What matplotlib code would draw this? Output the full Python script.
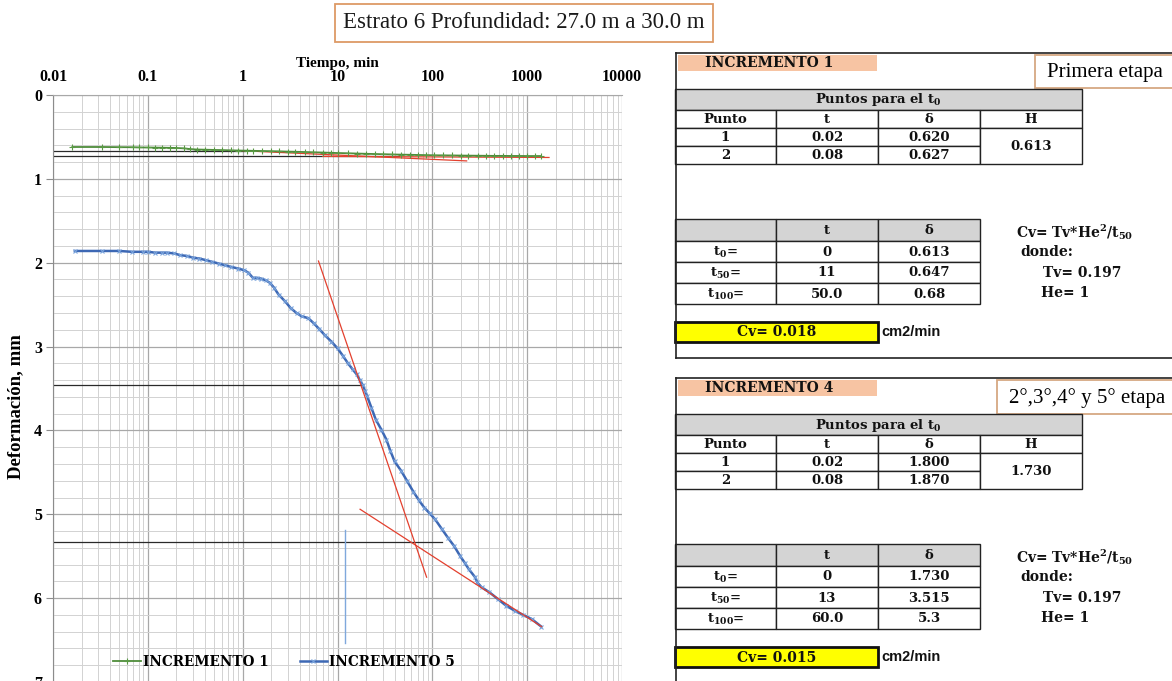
import matplotlib
matplotlib.use("Agg")
import matplotlib.pyplot as plt
from matplotlib.patches import Rectangle
from matplotlib.ticker import FixedLocator, MultipleLocator, FuncFormatter, LogLocator, NullFormatter

plt.rcParams['font.family'] = ['Liberation Serif', 'DejaVu Serif']
plt.rcParams['mathtext.fontset'] = 'dejavuserif'

# ---------------- consolidation curves (time in min, deformation in mm) ----------------
inc1_t = [0.016, 0.033, 0.05, 0.07, 0.08, 0.1, 0.12, 0.14, 0.17, 0.2, 0.24, 0.28, 0.33,
          0.4, 0.5, 0.6, 0.75, 0.9, 1.1, 1.3, 1.6, 2.0, 2.4, 3.0, 3.6, 4.5, 5.5, 7, 8.5,
          10, 13, 16, 20, 25, 30, 38, 47, 58, 70, 85, 105, 130, 160, 200, 240, 300, 370,
          450, 550, 680, 830, 1000, 1200, 1400]
inc1_d = [0.620, 0.620, 0.622, 0.623, 0.625, 0.626, 0.627, 0.628, 0.630, 0.632, 0.636,
          0.645, 0.650, 0.652, 0.655, 0.657, 0.660, 0.662, 0.664, 0.666, 0.668, 0.670,
          0.672, 0.675, 0.677, 0.680, 0.683, 0.686, 0.689, 0.692, 0.695, 0.698, 0.701,
          0.704, 0.706, 0.709, 0.711, 0.713, 0.715, 0.717, 0.719, 0.720, 0.721, 0.722,
          0.723, 0.724, 0.725, 0.726, 0.726, 0.727, 0.727, 0.728, 0.728, 0.728]

inc5_t = [0.017, 0.033, 0.05, 0.068, 0.088, 0.1, 0.12, 0.14, 0.16, 0.19, 0.22, 0.26, 0.30,
          0.35, 0.41, 0.48, 0.56, 0.65, 0.76, 0.9, 1.04, 1.15, 1.28, 1.42, 1.57, 1.75, 1.94,
          2.15, 2.39, 2.8, 3.2, 3.7, 4.2, 4.9, 5.6, 6.4, 7.3, 8.6, 10, 11.4, 12.9, 14.4,
          15.9, 17.2, 18.5, 19.5, 20.5, 22.8, 25.3, 29, 32.8, 36, 40, 46.8, 54, 63, 72,
          82, 94, 107, 125, 146, 170, 197, 220, 241, 282, 297, 330, 400, 490, 600, 740,
          910, 1120, 1410]
inc5_d = [1.86, 1.86, 1.86, 1.87, 1.87, 1.87, 1.88, 1.88, 1.88, 1.89, 1.91, 1.92, 1.94,
          1.95, 1.97, 1.99, 2.01, 2.03, 2.05, 2.07, 2.09, 2.12, 2.18, 2.18, 2.19, 2.21, 2.24,
          2.30, 2.38, 2.46, 2.54, 2.60, 2.64, 2.66, 2.72, 2.79, 2.86, 2.94, 3.02, 3.11, 3.20,
          3.27, 3.33, 3.40, 3.46, 3.53, 3.59, 3.73, 3.87, 3.99, 4.11, 4.24, 4.37, 4.48, 4.60,
          4.73, 4.83, 4.92, 4.99, 5.06, 5.17, 5.28, 5.38, 5.50, 5.58, 5.65, 5.75, 5.81, 5.87,
          5.93, 6.01, 6.09, 6.15, 6.20, 6.25, 6.34]

# Casagrande construction lines (t, deformation)
inc1_tan_a_t, inc1_tan_a_d = [1.0, 230], [0.665, 0.786]
inc1_tan_b_t, inc1_tan_b_d = [7, 1700], [0.732, 0.745]
inc1_h_a_t, inc1_h_a_d = [0.01, 1.05], [0.667, 0.667]
inc1_h_b_t, inc1_h_b_d = [0.01, 45], [0.726, 0.726]

inc5_tan_a_t, inc5_tan_a_d = [6.3, 87], [1.98, 5.75]
inc5_tan_b_t, inc5_tan_b_d = [17.3, 1420], [4.94, 6.34]
inc5_h_a_t, inc5_h_a_d = [0.01, 18.5], [3.46, 3.46]
inc5_h_b_t, inc5_h_b_d = [0.01, 125], [5.33, 5.33]
inc5_v_t, inc5_v_d = [12, 12], [5.19, 6.54]

x_ticks = [0.01, 0.1, 1, 10, 100, 1000, 10000]
y_ticks = [0, 1, 2, 3, 4, 5, 6, 7]

# ---------------- table contents ----------------
inc1_title = "INCREMENTO 1"
inc1_stage = "Primera etapa"
inc1_points = [("1", "0.02", "0.620"), ("2", "0.08", "0.627")]
inc1_H = "0.613"
inc1_times = [("0", "0.613"), ("11", "0.647"), ("50.0", "0.68")]
inc1_cv = "0.018"

inc4_title = "INCREMENTO 4"
inc4_stage = "2°,3°,4° y 5° etapa"
inc4_points = [("1", "0.02", "1.800"), ("2", "0.08", "1.870")]
inc4_H = "1.730"
inc4_times = [("0", "1.730"), ("13", "3.515"), ("60.0", "5.3")]
inc4_cv = "0.015"

tv_value = "0.197"
he_value = "1"
time_labels = [r"$\mathbf{t_0}$=", r"$\mathbf{t_{50}}$=", r"$\mathbf{t_{100}}$="]

WIDE = ['DejaVu Serif']          # wide bold serif used in the tables and legend
W, H = 1172, 681
fig = plt.figure(figsize=(W / 100, H / 100), dpi=100)

# ---------------- chart ----------------
ax = fig.add_axes([53 / W, 1 - 682 / H, (622 - 53) / W, (682 - 95) / H])
ax.set_xscale('log')
ax.set_xlim(0.01, 10000)
ax.set_ylim(7, 0)

ax.xaxis.tick_top()
ax.xaxis.set_label_position('top')
ax.xaxis.set_major_locator(FixedLocator(x_ticks))
ax.xaxis.set_major_formatter(FuncFormatter(lambda v, p: f"{v:g}"))
ax.xaxis.set_minor_locator(LogLocator(base=10, subs=range(2, 10), numticks=20))
ax.xaxis.set_minor_formatter(NullFormatter())
ax.yaxis.set_major_locator(FixedLocator(y_ticks))
ax.yaxis.set_minor_locator(MultipleLocator(0.2))

ax.grid(which='major', color='#a8a8a8', lw=0.9)
ax.grid(which='minor', color='#d2d2d2', lw=0.7)
ax.set_axisbelow(True)
for s in ['right', 'bottom']:
    ax.spines[s].set_visible(False)
ax.spines['left'].set_color('#8c8c8c')
ax.spines['top'].set_color('#a8a8a8')
ax.tick_params(axis='x', which='both', length=0, pad=7, labelsize=11.5)
ax.tick_params(axis='y', which='major', length=5, color='#8c8c8c', pad=3, labelsize=11.5)
ax.tick_params(axis='y', which='minor', length=0)
for lab in ax.get_xticklabels() + ax.get_yticklabels():
    lab.set_fontweight('bold')

ax.set_xlabel("Tiempo, min", fontsize=11, fontweight='bold', labelpad=2)
ax.set_ylabel("Deformación, mm", fontsize=13.5, fontweight='bold')
ax.yaxis.set_label_coords(-0.05, 0.47)

l1, = ax.plot(inc1_t, inc1_d, color='#4e8c3a', lw=1.3, marker='+', ms=5, mew=0.8,
              mec='#5a9a45', label='INCREMENTO 1', zorder=3)
l5, = ax.plot(inc5_t, inc5_d, color='#3d68b4', lw=1.8, marker='x', ms=3.5, mew=0.8,
              mec='#7aa4dc', label='INCREMENTO 5', zorder=3)

black = '#2a2a2a'
red = '#e3402e'
ax.plot(inc1_h_a_t, inc1_h_a_d, color=black, lw=0.9, zorder=2)
ax.plot(inc1_h_b_t, inc1_h_b_d, color=black, lw=0.9, zorder=2)
ax.plot(inc1_tan_a_t, inc1_tan_a_d, color=red, lw=0.9, zorder=2.5)
ax.plot(inc1_tan_b_t, inc1_tan_b_d, color=red, lw=0.9, zorder=2.5)
ax.plot(inc5_h_a_t, inc5_h_a_d, color=black, lw=0.9, zorder=2)
ax.plot(inc5_h_b_t, inc5_h_b_d, color=black, lw=0.9, zorder=2)
ax.plot(inc5_tan_a_t, inc5_tan_a_d, color=red, lw=0.9, zorder=4)
ax.plot(inc5_tan_b_t, inc5_tan_b_d, color=red, lw=0.9, zorder=4)
ax.plot(inc5_v_t, inc5_v_d, color='#7fa8dc', lw=1.0, zorder=2)

fig.legend(handles=[l1, l5], loc='center', bbox_to_anchor=(284 / W, 1 - 662 / H),
           ncol=2, frameon=False, prop={'weight': 'bold', 'size': 9.8, 'family': WIDE},
           handlelength=2.0, handletextpad=0.15, columnspacing=2.3)

# ---------------- title ----------------
fig.text(524 / W, 1 - 23 / H, "Estrato 6 Profundidad: 27.0 m a 30.0 m", fontsize=16.5,
         ha='center', va='center', color='#1a1a1a',
         bbox=dict(boxstyle='square,pad=0.35', fc='white', ec='#dd9a66', lw=1.3))

# ---------------- result panels ----------------
ov = fig.add_axes([0, 0, 1, 1], facecolor='none')
ov.set_xlim(0, W)
ov.set_ylim(H, 0)
ov.axis('off')

cols = [675, 776, 878, 980, 1082]
TFS = 9.5


def btext(x, y, s, fs=TFS, ha='center', **kw):
    ov.text(x, y, s, ha=ha, va='center', fontsize=fs, fontweight='bold',
            family=WIDE, color='#111111', **kw)


def cell(x0, y0, x1, y1, text="", fc='white', lw=1.0, fs=TFS):
    ov.add_patch(Rectangle((x0, y0), x1 - x0, y1 - y0, fc=fc, ec='#222222', lw=lw))
    if text:
        btext((x0 + x1) / 2, (y0 + y1) / 2 + 0.5, text, fs=fs)


def panel(top, title, stage, stage_box, points, h_val, times, cv, bottom):
    # frame
    ov.plot([676, W], [top, top], color='#222222', lw=1.2)
    ov.plot([676, 676], [top, bottom], color='#222222', lw=1.2)
    # title band
    ov.add_patch(Rectangle((678, top + 1.5), 199, 16.5, fc='#f7c4a3', ec='none'))
    btext(705, top + 10, title, fs=10, ha='left')
    # stage label
    sx0, sy0, sx1, sy1 = stage_box
    ov.add_patch(Rectangle((sx0, sy0), sx1 - sx0, sy1 - sy0, fc='white', ec='#d6a882', lw=1.3))
    ov.text(sx0 + 12, (sy0 + sy1) / 2 + 1, stage, fontsize=15, ha='left', va='center')

    # "Puntos para el t0" table
    y = top + 36
    cell(cols[0], y, cols[4], y + 21, r"Puntos para el $\mathbf{t_0}$", fc='#d4d4d4')
    y += 21
    for i, hdr in enumerate(["Punto", "t", "δ", "H"]):
        cell(cols[i], y, cols[i + 1], y + 18, hdr)
    y += 18
    for r, row in enumerate(points):
        for i, v in enumerate(row):
            cell(cols[i], y + 18 * r, cols[i + 1], y + 18 * (r + 1), v)
    cell(cols[3], y, cols[4], y + 36, h_val)

    # t0 / t50 / t100 table
    y = top + 166
    cell(cols[0], y, cols[1], y + 22, "", fc='#d4d4d4')
    cell(cols[1], y, cols[2], y + 22, "t", fc='#d4d4d4')
    cell(cols[2], y, cols[3], y + 22, "δ", fc='#d4d4d4')
    y += 22
    for r, (tv, dv) in enumerate(times):
        y0 = y + 21 * r
        cell(cols[0], y0, cols[1], y0 + 21, time_labels[r])
        cell(cols[1], y0, cols[2], y0 + 21, tv)
        cell(cols[2], y0, cols[3], y0 + 21, dv)

    # formula
    fx = 1016
    btext(fx, top + 179, r"Cv= Tv*He$^{\mathbf{2}}$/t$_{\mathbf{50}}$", fs=10, ha='left')
    btext(fx + 4, top + 199, "donde:", fs=10, ha='left')
    btext(fx + 27, top + 220, f"Tv= {tv_value}", fs=10, ha='left')
    btext(fx + 25, top + 240, f"He= {he_value}", fs=10, ha='left')

    # Cv result
    cy = top + 269
    ov.add_patch(Rectangle((675, cy), 203, 20, fc='#ffff00', ec='#111111', lw=2.0))
    btext(777, cy + 10.5, f"Cv= {cv}", fs=10)
    ov.text(881, cy + 10, "cm2/min", fontsize=10.5, fontweight='bold', ha='left', va='center',
            family=['Liberation Sans', 'DejaVu Sans'], color='#111111')


panel(53, inc1_title, inc1_stage, (1035, 55, 1180, 88), inc1_points, inc1_H,
      inc1_times, inc1_cv, 358)
ov.plot([676, W], [358, 358], color='#222222', lw=1.2)
panel(378, inc4_title, inc4_stage, (997, 380, 1180, 414), inc4_points, inc4_H,
      inc4_times, inc4_cv, H)

fig.savefig("out.png", dpi=100)
